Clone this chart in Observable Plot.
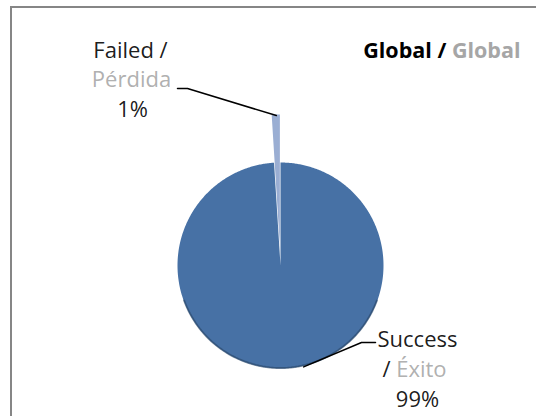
<!DOCTYPE html>
<html>
<head>
<meta charset="utf-8">
<script src="https://cdn.jsdelivr.net/npm/d3@7"></script>
<script src="https://cdn.jsdelivr.net/npm/@observablehq/plot@0.6"></script>
<style>
  html, body { margin: 0; padding: 0; background: #fff; }
  #wrap { position: relative; width: 536px; height: 416px; overflow: hidden; }
  #border { position: absolute; left: 10px; top: 6px; width: 600px; height: 500px;
            border-top: 2px solid #868686; border-left: 2px solid #868686; }
  #chart { position: absolute; left: 0; top: 0; }
</style>
</head>
<body>
<div id="wrap"><div id="border"></div><div id="chart"></div></div>
<script>
// ---- data ----
const categories = ["Success", "Failed"];
const categoriesEs = ["Éxito", "Pérdida"];
const values = [99, 1];
const percentLabels = ["99%", "1%"];
const titleEn = "Global";
const titleEs = "Global";

// ---- layout (not data) ----
const W = 536, H = 416;
const cx = 280, cy = 265, R = 103;
const colors = {Success: "#4771a5", Failed: "#9aaed3"};
const gray = "#a6a6a6";
const font = "'Open Sans', Lato, sans-serif";

const table = categories.map((c, i) => ({name: c, es: categoriesEs[i], value: values[i], pct: percentLabels[i]}));
// clockwise from top; Success first
const arcs = d3.pie().sort(null).value(d => d.value)(table);

function slicePoints(a, r, ox, oy) {
  const pts = [{x: cx + ox, y: cy + oy}];
  const n = Math.max(2, Math.ceil((a.endAngle - a.startAngle) / 0.01));
  for (let k = 0; k <= n; k++) {
    const t = a.startAngle + (a.endAngle - a.startAngle) * k / n;
    pts.push({x: cx + ox + r * Math.sin(t), y: cy + oy - r * Math.cos(t)});
  }
  return pts;
}

const marks = [];
arcs.forEach(a => {
  let r = R, ox = 0, oy = 0;
  if (a.data.name === "Failed") {
    const mid = (a.startAngle + a.endAngle) / 2;
    const d = 20; r = R + 28;
    ox = d * Math.sin(mid); oy = -d * Math.cos(mid);
  }
  a.pts = slicePoints(a, r, ox, oy);
  marks.push(Plot.line(a.pts, {x: "x", y: "y", fill: colors[a.data.name], stroke: "none", curve: "linear-closed"}));
});

// bottom 3D-ish shadow edge on the large slice
const shadow = d3.range(110, 251, 2).map(deg => {
  const t = deg * Math.PI / 180;
  return {x: cx + (R - 0.5) * Math.sin(t), y: cy - (R - 0.5) * Math.cos(t)};
});
marks.push(Plot.line(shadow, {x: "x", y: "y", stroke: "#253f5e", strokeWidth: 2, strokeOpacity: 0.55}));

// leader lines
const success = arcs.find(a => a.data.name === "Success");
const failed = arcs.find(a => a.data.name === "Failed");
const failedTop = failed.pts[1 + Math.floor((failed.pts.length - 1) / 2)];
const leaderFailed = [{x: 177, y: 88}, {x: 187, y: 88}, {x: failedTop.x, y: failedTop.y + 1}];
const sT = 167 * Math.PI / 180;
const leaderSuccess = [{x: 375, y: 342}, {x: 361, y: 342}, {x: cx + R * Math.sin(sT), y: cy - R * Math.cos(sT) + 1}];
marks.push(Plot.line(leaderFailed, {x: "x", y: "y", stroke: "#000", strokeWidth: 1.5}));
marks.push(Plot.line(leaderSuccess, {x: "x", y: "y", stroke: "#000", strokeWidth: 1.5}));

// labels
const fs = 22;
const lines = [
  {t: failed.data.name + " /", x: 130, y: 57, c: "#000"},
  {t: failed.data.es, x: 131, y: 86, c: gray},
  {t: failed.data.pct, x: 132, y: 116, c: "#000"},
  {t: success.data.name, x: 417, y: 346, c: "#000"},
  {t: "/ " + success.data.es, x: 414, y: 376, c: "#000"},
  {t: success.data.pct, x: 417, y: 406, c: "#000"}
];
marks.push(Plot.text(lines, {x: "x", y: "y", text: "t", fill: "c", lineAnchor: "bottom", textAnchor: "middle",
  fontSize: fs, fontFamily: font, fillOpacity: 0.9}));
marks.push(Plot.text([{t: titleEn + " / " + titleEs}], {x: () => 520, y: () => 57, text: "t", lineAnchor: "bottom",
  textAnchor: "end", fontSize: 21.5, fontWeight: "bold", fontFamily: font, fill: "#000"}));

const svg = Plot.plot({
  width: W, height: H, margin: 0,
  style: {background: "transparent", overflow: "visible"},
  x: {domain: [0, W], range: [0, W], axis: null},
  y: {domain: [0, H], range: [0, H], axis: null},
  color: {type: "identity"},
  marks
});

// colour parts of mixed lines with tspans
svg.querySelectorAll("text").forEach(el => {
  const s = el.textContent;
  if (s === "/ " + success.data.es) {
    el.textContent = "";
    d3.select(el).append("tspan").attr("fill", "#000").text("/ ");
    d3.select(el).append("tspan").attr("fill", gray).text(success.data.es);
  } else if (s === titleEn + " / " + titleEs) {
    el.textContent = "";
    d3.select(el).append("tspan").attr("fill", "#000").text(titleEn + " / ");
    d3.select(el).append("tspan").attr("fill", gray).text(titleEs);
  }
});
document.getElementById("chart").appendChild(svg);
</script>
</body>
</html>
